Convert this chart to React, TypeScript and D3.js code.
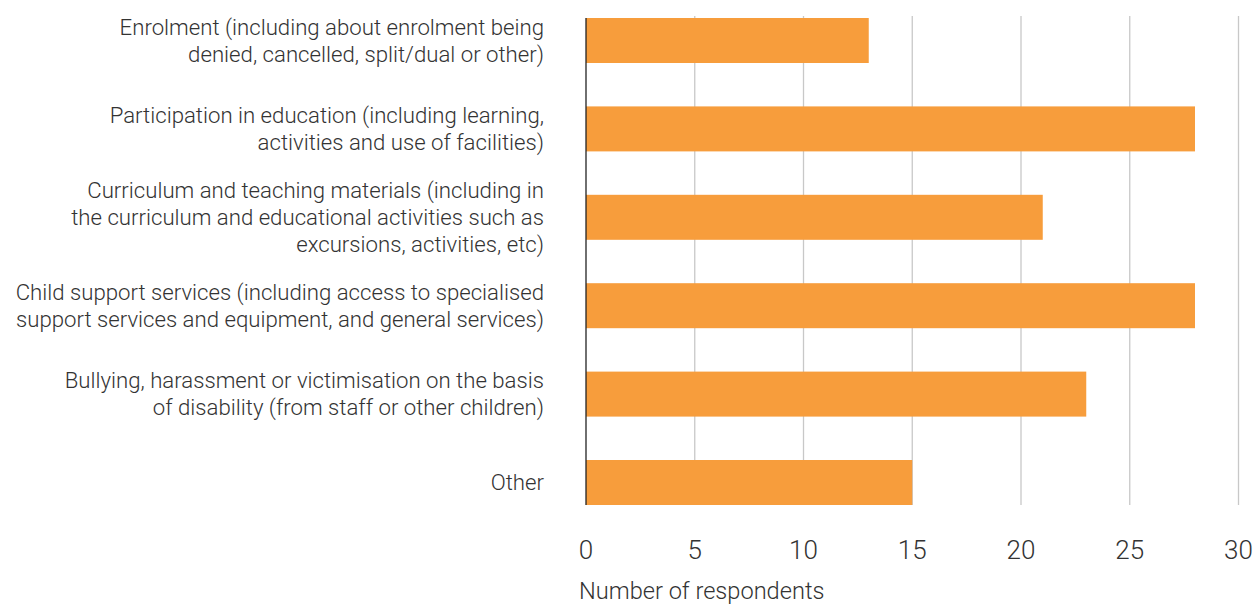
import React from "react";
import * as d3 from "d3";

const categories: string[][] = [
  ["Enrolment (including about enrolment being", "denied, cancelled, split/dual or other)"],
  ["Participation in education (including learning,", "activities and use of facilities)"],
  ["Curriculum and teaching materials (including in", "the curriculum and educational activities such as", "excursions, activities, etc)"],
  ["Child support services (including access to specialised", "support services and equipment, and general services)"],
  ["Bullying, harassment or victimisation on the basis", "of disability (from staff or other children)"],
  ["Other"],
];
const values: number[] = [13, 28, 21, 28, 23, 15];
const ticks: number[] = [0, 5, 10, 15, 20, 25, 30];
const axisTitle = "Number of respondents";

const W = 1255;
const H = 605;
const FONT = "'Roboto', 'Liberation Sans', sans-serif";

export default function App() {
  const x = d3.scaleLinear().domain([0, 30]).range([586, 1238.5]);
  const ids = categories.map((_, i) => String(i));
  const y = d3.scaleBand<string>().domain(ids).range([18, 505]).paddingInner(0.491).paddingOuter(0);
  const lineH = 26.8;
  return (
    <svg width={W} height={H} style={{ position: "absolute", left: 0, top: 0, fontFamily: FONT }}>
      <rect width={W} height={H} fill="#fff" />
      {ticks.slice(1).map((t) => (
        <line key={"g" + t} x1={x(t)} x2={x(t)} y1={16} y2={505} stroke="#c8c8c8" strokeWidth={1.3} />
      ))}
      {values.map((v, i) => (
        <rect key={"b" + i} x={x(0)} y={y(String(i))} width={x(v) - x(0)} height={y.bandwidth()} fill="#F79D3C" />
      ))}
      <line x1={x(0)} x2={x(0)} y1={18} y2={505} stroke="#222" strokeWidth={1.3} />
      {categories.map((lines, i) => {
        const cy = (y(String(i)) as number) + y.bandwidth() / 2;
        const start = cy - ((lines.length - 1) * lineH) / 2;
        return (
          <text key={"l" + i} textAnchor="end" fontSize={22.2} fontWeight={300} fill="#333">
            {lines.map((ln, j) => (
              <tspan key={j} x={544} y={start + j * lineH} dy="0.35em">{ln}</tspan>
            ))}
          </text>
        );
      })}
      {ticks.map((t) => (
        <text key={"t" + t} x={x(t)} y={550} dy="0.35em" textAnchor="middle" fontSize={26} fontWeight={300} fill="#333">
          {t}
        </text>
      ))}
      <text x={579} y={591} dy="0.35em" fontSize={23.6} fontWeight={300} fill="#333">{axisTitle}</text>
    </svg>
  );
}
